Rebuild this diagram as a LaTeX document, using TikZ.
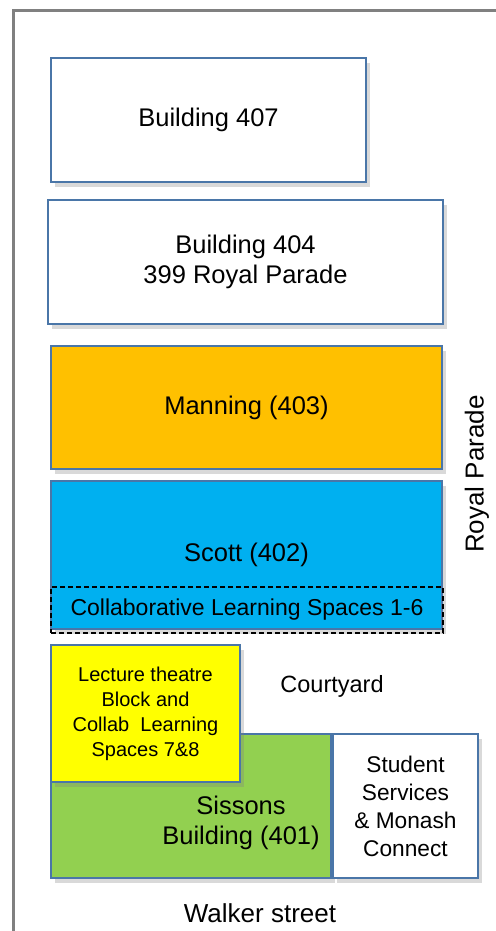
\documentclass[tikz,border=0pt]{standalone}
\usepackage{fontspec}
\setmainfont{Liberation Sans}
\usetikzlibrary{positioning,shadows}
\definecolor{edgeblue}{HTML}{4A76A8}
\definecolor{frameGray}{HTML}{808080}
\definecolor{manningOrange}{HTML}{FFC000}
\definecolor{scottBlue}{HTML}{00B0F0}
\definecolor{lectureYellow}{HTML}{FFFF00}
\definecolor{sissonsGreen}{HTML}{92D050}
\tikzset{
  building/.style={rectangle, draw=edgeblue, line width=2pt, fill=white, inner sep=0pt, align=center,
                   font=\fontsize{25.5}{30}\selectfont,
                   drop shadow={opacity=0.3, shadow xshift=4pt, shadow yshift=-5pt}},
  dashbox/.style={rectangle, draw=black, dash pattern=on 5pt off 3pt, line width=1.8pt, inner sep=0pt,
                  font=\fontsize{23}{28}\selectfont},
  label/.style={inner sep=0pt, align=center, font=\fontsize{25.5}{30}\selectfont},
  orange/.style={fill=manningOrange},
  blue/.style={fill=scottBlue},
  yellow/.style={fill=lectureYellow},
  green/.style={fill=sissonsGreen},
}
\begin{document}
\begin{tikzpicture}[x=1pt, y=-1pt]
\useasboundingbox (0,0) rectangle (495,931);
%Frame
\draw[frameGray, line width=3pt] (497,11) -- (13,11) -- (13,933);

%Nodes
\node[building, minimum width=315, minimum height=124] (b407) at (208.5,120) {Building 407};
\node[building, minimum width=395, minimum height=124] (b404) at (245.5,262) {Building 404\\399 Royal Parade};
\node[building, orange, minimum width=391, minimum height=123] (manning) at (246.5,407.5) {Manning (403)};
\node[building, blue, minimum width=391, minimum height=148] (scott) at (246.5,555) {Scott (402)};
\node[dashbox, minimum width=392, minimum height=46] (collab) at (247,610) {Collaborative Learning Spaces 1-6};
\node[building, green, minimum width=280, minimum height=144] (sissons) at (191,806) {};
\node[building, minimum width=145, minimum height=144, font=\fontsize{22.7}{28}\selectfont] (student) [right=0pt of sissons] {Student\\Services\\\& Monash\\Connect};
\node[building, yellow, minimum width=189, minimum height=137, font=\fontsize{20}{25}\selectfont] (lecture) at (145.5,713.5) {Lecture theatre\\Block and\\Collab~ Learning\\Spaces 7\&8};

%Labels
\node[label] (sissonsname) at (241,823) {Sissons\\Building (401)};
\node[label, font=\fontsize{23.5}{28}\selectfont] (courtyard) at (332,686) {Courtyard};
\node[label, font=\fontsize{26}{30}\selectfont] (walker) at (260,913) {Walker street};
\node[label, rotate=90, font=\fontsize{26}{30}\selectfont] (royal) at (477,474) {Royal Parade};
\end{tikzpicture}
\end{document}
